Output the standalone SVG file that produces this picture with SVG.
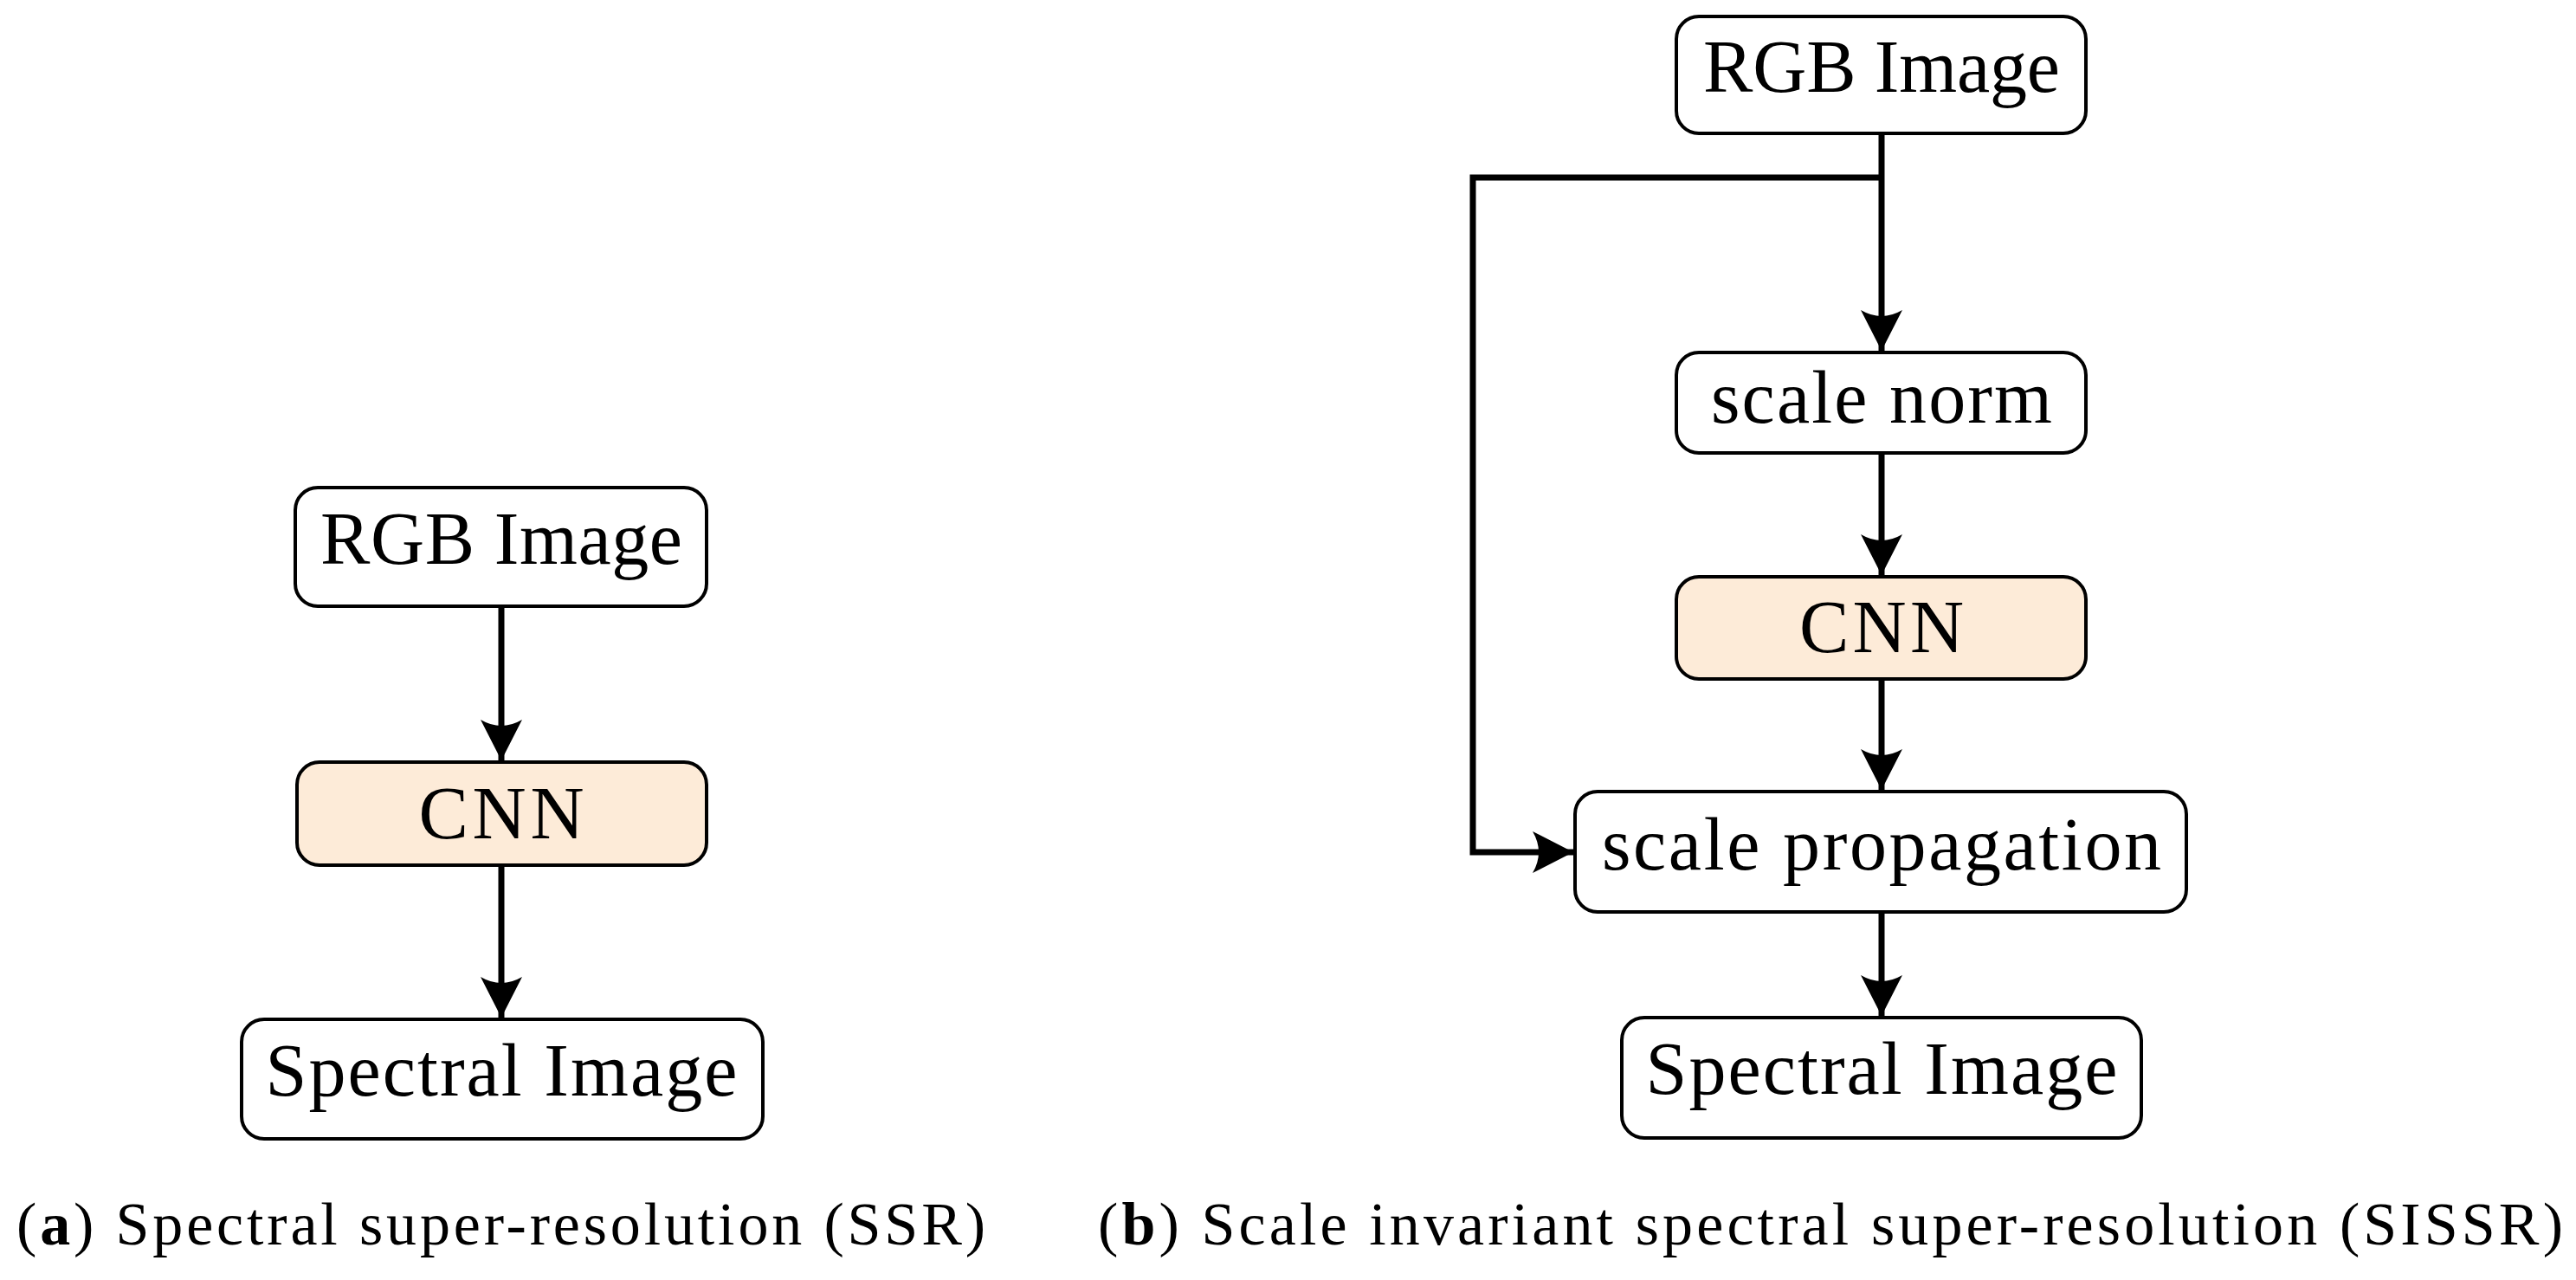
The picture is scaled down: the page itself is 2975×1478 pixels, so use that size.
<svg xmlns="http://www.w3.org/2000/svg" width="2975" height="1478" viewBox="0 0 2975 1478">
<style>
.box{fill:#fff;stroke:#000;stroke-width:4}
.cnn{fill:#fdebd8;stroke:#000;stroke-width:4}
.t{font-family:"Liberation Serif",serif;font-size:86px;text-anchor:middle;fill:#000}
.cap{font-family:"Liberation Serif",serif;font-size:70px;fill:#000}
.c{fill:none;stroke:#000;stroke-width:7}
</style>
<defs>
<marker id="ah" markerUnits="userSpaceOnUse" markerWidth="48" markerHeight="48" refX="47" refY="24" orient="auto">
<path d="M0,0 L47,24 L0,48 Q14,24 0,0 Z" fill="#000"/>
</marker>
</defs>
<rect width="2975" height="1478" fill="#fff"/>
<g id="connectors">
<line class="c" x1="579" y1="700" x2="579" y2="878" marker-end="url(#ah)"/>
<line class="c" x1="579" y1="999" x2="579" y2="1175" marker-end="url(#ah)"/>
<line class="c" x1="2173" y1="154" x2="2173" y2="405" marker-end="url(#ah)"/>
<polyline class="c" points="2173,205 1701,205 1701,984 1817,984" marker-end="url(#ah)"/>
<line class="c" x1="2173" y1="523" x2="2173" y2="664" marker-end="url(#ah)"/>
<line class="c" x1="2173" y1="784" x2="2173" y2="912" marker-end="url(#ah)"/>
<line class="c" x1="2173" y1="1053" x2="2173" y2="1173" marker-end="url(#ah)"/>
</g>
<g id="a_rgb"><rect class="box" x="341" y="563" width="475" height="137" rx="26"/><text class="t" x="579" y="651" textLength="418">RGB Image</text></g>
<g id="a_cnn"><rect class="cnn" x="343" y="880" width="473" height="119" rx="26"/><text class="t" x="579" y="968" textLength="191">CNN</text></g>
<g id="a_spec"><rect class="box" x="279" y="1177" width="602" height="138" rx="26"/><text class="t" x="579" y="1265" textLength="545">Spectral Image</text></g>
<g id="b_rgb"><rect class="box" x="1936" y="19" width="473" height="135" rx="26"/><text class="t" x="2173" y="106" textLength="412">RGB Image</text></g>
<g id="b_norm"><rect class="box" x="1936" y="407" width="473" height="116" rx="26"/><text class="t" x="2173" y="488" textLength="394">scale norm</text></g>
<g id="b_cnn"><rect class="cnn" x="1936" y="666" width="473" height="118" rx="26"/><text class="t" x="2173" y="753" textLength="190">CNN</text></g>
<g id="b_prop"><rect class="box" x="1819" y="914" width="706" height="139" rx="26"/><text class="t" x="2173" y="1004" textLength="646">scale propagation</text></g>
<g id="b_spec"><rect class="box" x="1873" y="1175" width="600" height="139" rx="26"/><text class="t" x="2173" y="1263" textLength="545">Spectral Image</text></g>
<text class="cap" x="19" y="1437" textLength="1119">(<tspan font-weight="bold">a</tspan>) Spectral super-resolution (SSR)</text>
<text class="cap" x="1268" y="1437" textLength="1692">(<tspan font-weight="bold">b</tspan>) Scale invariant spectral super-resolution (SISSR)</text>
</svg>
